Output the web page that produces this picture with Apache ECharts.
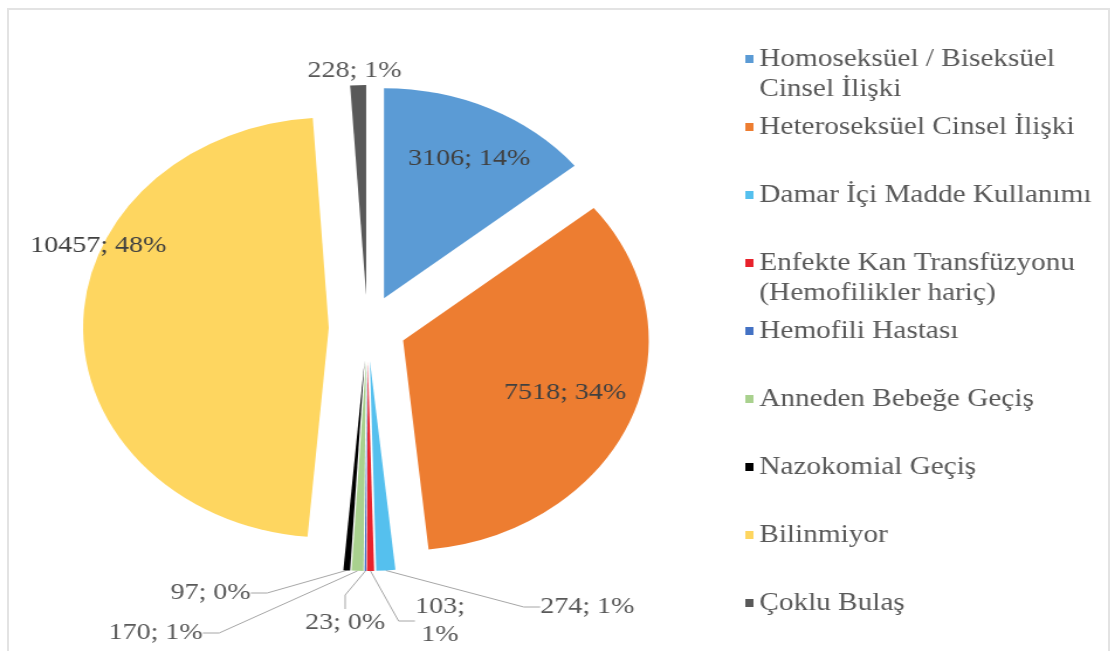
<!DOCTYPE html>
<html>
<head>
<meta charset="utf-8">
<script src="https://cdn.jsdelivr.net/npm/echarts@6/dist/echarts.min.js"></script>
<style>
html, body { margin: 0; padding: 0; background: #ffffff; width: 1118px; height: 651px; overflow: hidden; }
#frame { position: absolute; left: 7px; top: 8px; width: 1103px; height: 700px; border: 2px solid #e3e3e3; box-sizing: border-box; }
#chart { position: absolute; left: 0; top: 0; width: 956px; height: 651px; transform: scaleX(1.17); transform-origin: 0 0; }
</style>
</head>
<body>
<div id="frame"></div>
<div id="chart"></div>
<script>
// ---- data ----
const categories = [
  'Homoseksüel / Biseksüel\nCinsel İlişki',
  'Heteroseksüel Cinsel İlişki',
  'Damar İçi Madde Kullanımı',
  'Enfekte Kan Transfüzyonu\n(Hemofilikler hariç)',
  'Hemofili Hastası',
  'Anneden Bebeğe Geçiş',
  'Nazokomial Geçiş',
  'Bilinmiyor',
  'Çoklu Bulaş'
];
const values = [3106, 7518, 274, 103, 23, 170, 97, 10457, 228];
const percentLabels = ['14%', '34%', '1%', '1%', '0%', '1%', '0%', '48%', '1%'];

// ---- styling / layout ----
const colors = ['#5B9BD5', '#ED7D31', '#55C0EE', '#E8222C', '#4472C4', '#A9D18E', '#000000', '#FED660', '#595959'];
const insideLabel = [true, true, false, false, false, false, false, true, false];
const showLeader = [false, false, true, true, true, true, true, false, false];
const labelPositions = [[401, 159], [483, 393], [502, 607], [376, 621], [295, 623], [133, 633], [180, 593], [84, 246], [303, 71]];
const FONT = 'Liberation Serif';
const PIE_CENTER = [314, 328];
const PIE_RADIUS = 210;
const EXPLODE = 33;

const chart = echarts.init(document.getElementById('chart'));

const total = values.reduce((a, b) => a + b, 0);

// one pie layer per slice: each layer shows only its own slice, pushed out along its mid angle
const series = values.map((val, i) => {
  const before = values.slice(0, i).reduce((a, b) => a + b, 0);
  const midDeg = 90 - (before + val / 2) / total * 360;
  const rad = midDeg * Math.PI / 180;
  const cx = PIE_CENTER[0] + EXPLODE * Math.cos(rad);
  const cy = PIE_CENTER[1] - EXPLODE * Math.sin(rad);
  return {
    type: 'pie',
    name: 'layer' + i,
    center: [cx, cy],
    radius: PIE_RADIUS,
    startAngle: 90,
    clockwise: true,
    avoidLabelOverlap: false,
    silent: true,
    emphasis: { disabled: true },
    itemStyle: { borderWidth: 0 },
    labelLine: {
      length: 10,
      length2: 14,
      lineStyle: { color: '#a6a6a6', width: 1 }
    },
    labelLayout: p => p.dataIndex === i ? {
      x: labelPositions[i][0],
      y: labelPositions[i][1],
      align: 'center',
      verticalAlign: 'middle'
    } : {},
    data: values.map((v, j) => ({
      name: categories[j],
      value: v,
      itemStyle: { color: colors[j], opacity: j === i ? 1 : 0 },
      label: {
        show: j === i,
        position: 'outside',
        fontFamily: FONT,
        fontSize: 24,
        lineHeight: 28,
        color: insideLabel[j] ? '#404040' : '#595959',
        formatter: j === 3
          ? v + ';\n' + percentLabels[j]
          : v + '; ' + percentLabels[j]
      },
      labelLine: { show: j === i && showLeader[j] }
    }))
  };
});

chart.setOption({
  animation: false,
  backgroundColor: 'transparent',
  legend: {
    orient: 'vertical',
    left: 637,
    top: 14,
    padding: 0,
    itemGap: -22,
    itemWidth: 7,
    itemHeight: 8,
    icon: 'rect',
    selectedMode: false,
    itemStyle: { opacity: 1 },
    data: categories,
    formatter: name => {
      const lines = name.split('\n');
      return '\u00a0\n' + lines[0] + '\n' + (lines[1] || '\u00a0');
    },
    textStyle: {
      fontFamily: FONT,
      fontSize: 25,
      color: '#595959',
      lineHeight: 30
    }
  },
  series: series
});
</script>
</body>
</html>
